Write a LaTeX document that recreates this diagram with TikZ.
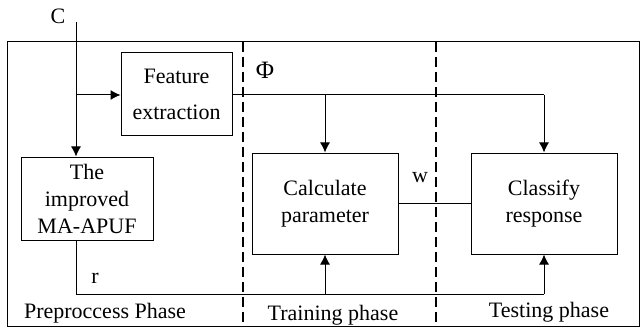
\documentclass[tikz,border=0pt]{standalone}
\usepackage{fontspec}
\setmainfont{Liberation Serif}
\usetikzlibrary{arrows.meta}
\begin{document}
\begin{tikzpicture}[x=0.5pt,y=-0.5pt,
  every node/.style={font=\fontsize{11}{13.5}\selectfont, inner sep=0pt},
  blk/.style={draw, line width=0.5pt, align=center},
  wire/.style={line width=0.5pt},
  arr/.style={wire, -{Latex[length=5pt,width=5pt]}},
  phase/.style={line width=0.7pt, dash pattern=on 5pt off 2.5pt}]
\useasboundingbox (0,0) rectangle (640,331);
% outer frame
\draw[line width=0.5pt] (7,42) rectangle (639,326);
% phase separators
\draw[phase] (243,42) -- (243,326);
\draw[phase] (436,42) -- (436,326);
% blocks
\node[blk, minimum width=55.5pt, minimum height=41.5pt, font=\fontsize{11}{18}\selectfont] (fe) at (176.5,94.5) {Feature\\extraction};
\node[blk, minimum width=66pt, minimum height=41.5pt] (puf) at (87,198.5) {The\\improved\\MA-APUF};
\node[blk, minimum width=73pt, minimum height=50.5pt] (calc) at (325,203.5) {Calculate\\parameter};
\node[blk, minimum width=73pt, minimum height=50.5pt] (cls) at (544,203.5) {Classify\\response};
% challenge input
\coordinate (cin) at (76,22);
\coordinate (csplit) at (76,95);
\node (clab) at (58,16) {C};
\draw[arr] (cin) -- (puf.north -| cin);
\draw[arr] (csplit) -- (fe.west |- csplit);
% feature vector
\coordinate (phic) at (325,95);
\coordinate (phir) at (544,95);
\node[font=\fontsize{12.5}{14}\selectfont] (phi) at (265,70) {Φ};
\draw[wire] (fe.east |- phic) -- (phir);
\draw[arr] (phir) -- (cls.north);
\draw[arr] (phic) -- (calc.north);
% weights
\node (w) at (420,178) {w};
\draw[wire] (calc.east) -- (cls.west);
% responses
\coordinate (rd) at (76,294);
\coordinate (rc) at (325,294);
\coordinate (rr) at (544,294);
\node (r) at (95,278) {r};
\draw[wire] (puf.south -| rd) -- (rd) -- (rr);
\draw[arr] (rr) -- (cls.south);
\draw[arr] (rc) -- (calc.south);
% phase labels
\node (p1) at (105,313) {Preproccess Phase};
\node (p2) at (333,315) {Training phase};
\node (p3) at (549,312) {Testing phase};
\end{tikzpicture}
\end{document}
